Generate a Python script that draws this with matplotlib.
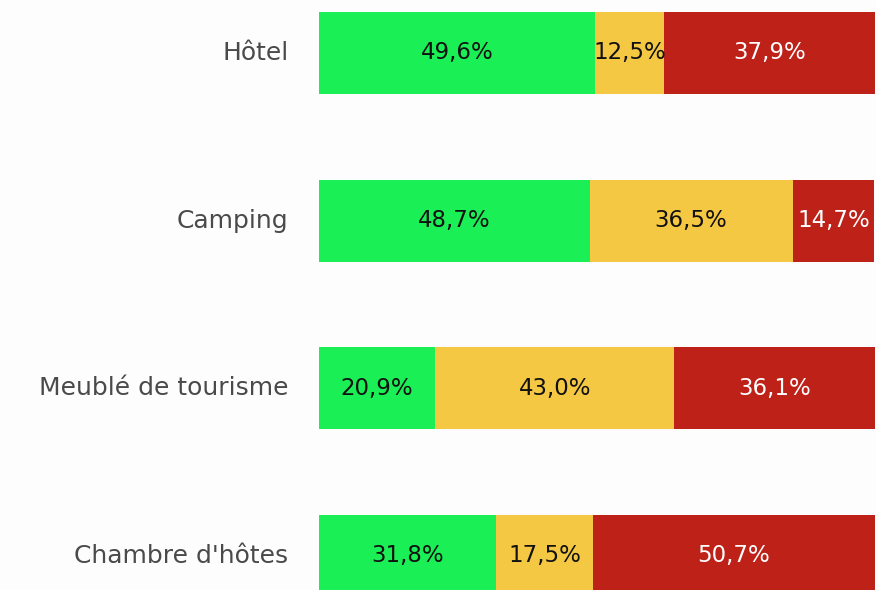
import matplotlib
matplotlib.use("Agg")
import matplotlib.pyplot as plt
import numpy as np

categories = ["Hôtel", "Camping", "Meublé de tourisme", "Chambre d'hôtes"]
green_vals = [49.6, 48.7, 20.9, 31.8]
yellow_vals = [12.5, 36.5, 43.0, 17.5]
red_vals = [37.9, 14.7, 36.1, 50.7]

colors = ["#1bef56", "#f5c843", "#bd2118"]
text_colors = ["#111111", "#111111", "#ffffff"]

fig = plt.figure(figsize=(8.76, 5.90), dpi=100)
ax = fig.add_axes([319 / 876, 0, 557 / 876, 1])

y = np.arange(len(categories))
left = np.zeros(len(categories))
for vals, col, tcol in zip([green_vals, yellow_vals, red_vals], colors, text_colors):
    vals = np.array(vals)
    ax.barh(y, vals, left=left, height=0.49, color=col, linewidth=0)
    for yi, l, v in zip(y, left, vals):
        ax.text(l + v / 2, yi, f"{v:.1f}%".replace(".", ","), ha="center", va="center",
                fontsize=16.5, color=tcol)
    left += vals

ax.set_xlim(0, 100.2)
ax.set_ylim(3.203, -0.316)
ax.axis("off")

for yi, c in zip(y, categories):
    ax.annotate(c, xy=(0, yi), xycoords="data", xytext=(-22, 0), textcoords="offset points",
                ha="right", va="center", fontsize=18, color="#4a4a4a")

fig.savefig("out.png", dpi=100, facecolor="#fdfdfd")
